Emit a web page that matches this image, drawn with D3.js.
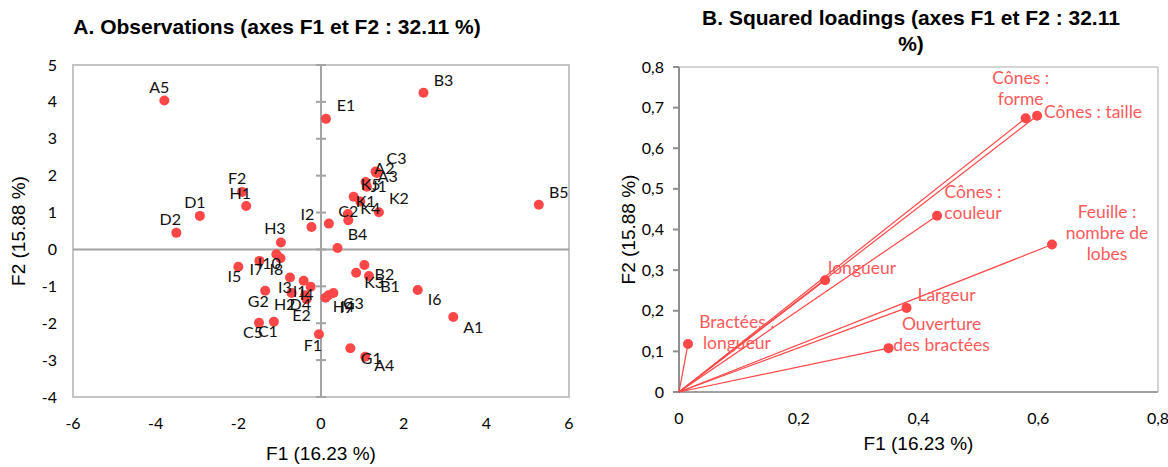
<!DOCTYPE html>
<html>
<head>
<meta charset="utf-8">
<script src="https://cdn.jsdelivr.net/npm/d3@7"></script>
<style>
  html, body { margin: 0; padding: 0; background: #fff; }
  svg { display: block; }
</style>
</head>
<body>
<svg id="chart" width="1168" height="467"></svg>
<script>
// ---------- DATA ----------
const obsNames = ["A1","A2","A3","A4","A5","B1","B2","B3","B4","B5","C1","C2","C3","C4","C5",
  "D1","D2","D3","D4","E1","E2","F1","F2","G1","G2","G3","H1","H2","H3","H4",
  "I1","I2","I3","I4","I5","I6","I7","I8","I9","I10","J1","K1","K2","K3","K4","K5"];
const obsF1 = [3.20,1.34,1.35,1.07,-3.79,1.16,1.05,2.48,0.40,5.27,-1.14,0.66,1.32,0.19,-1.50,
  -2.93,-3.50,0.65,-0.38,0.12,-0.35,-0.05,-1.91,0.71,-1.35,0.30,-1.81,-0.71,-0.97,0.11,
  -0.42,-0.23,-0.75,-0.25,-2.00,2.34,-1.49,-0.98,0.18,-1.08,1.11,0.79,1.40,0.85,0.95,1.08];
const obsF2 = [-1.83,2.10,2.07,-2.91,4.04,-0.72,-0.42,4.25,0.04,1.21,-1.96,0.79,2.11,0.70,-1.99,
  0.91,0.45,0.96,-1.24,3.54,-1.35,-2.30,1.56,-2.68,-1.12,-1.18,1.18,-1.18,0.19,-1.31,
  -0.85,0.61,-0.76,-1.01,-0.47,-1.10,-0.31,-0.24,-1.24,-0.13,1.70,1.43,1.01,-0.63,1.30,1.83];

const varNames = [["Cônes :","forme"],["Cônes : taille"],["Cônes :","couleur"],["Feuille :","nombre de","lobes"],
  ["longueur"],["Largeur"],["Ouverture","des bractées"],["Bractées :","longueur"]];
const varF1 = [0.579,0.598,0.431,0.623,0.244,0.380,0.350,0.015];
const varF2 = [0.674,0.680,0.434,0.363,0.275,0.207,0.108,0.118];

const xTicksA = [-6,-4,-2,0,2,4,6];
const yTicksA = [-4,-3,-2,-1,0,1,2,3,4,5];
const xTicksB = [0,0.2,0.4,0.6,0.8];
const yTicksB = [0,0.1,0.2,0.3,0.4,0.5,0.6,0.7,0.8];

const titleA = "A. Observations (axes F1 et F2 : 32.11 %)";
const titleB = ["B. Squared loadings (axes F1 et F2 : 32.11", "%)"];
const xTitle = "F1 (16.23 %)";
const yTitle = "F2 (15.88 %)";

// ---------- LAYOUT (label placement, pixels) ----------
const obsLabelOffset = {
  A1:[20,10],A2:[8,-4],A3:[11,3],A4:[19,9],A5:[-5,-13],B1:[21,10],B2:[20,9],B3:[20,-12],B4:[20,-14],B5:[20,-12],
  C1:[-6,10],C2:[0,-9],C3:[21,-13],C4:null,C5:[-6,10],D1:[-5,-13],D2:[-6,-13],D3:null,D4:[-5,9],
  E1:[20,-13],E2:[-5,16],F1:[-6,11],F2:[-5,-13],G1:[21,10],G2:[-7,11],G3:[20,10],H1:[-6,-13],H2:[-7,11],
  H3:[-6,-14],H4:[18,9],I1:[-4,11],I2:[-4,-13],I3:[-5,10],I4:[-4,8],I5:[-4,10],I6:[17,9],I7:[-3,9],
  I8:[-4,11],I9:[18,12],I10:[-7,9],J1:[12,0],K1:[12,5],K2:[20,-14],K3:[18,10],K4:[10,7],K5:[5,2]
};
// [x offset, first line y offset] for variable labels
const varLabelOffset = [[-5,-40],[7,-4],[36,-24],[55,-33],[37,-12],[40,-13],[53,-24],[49,-22]];

const red = "#ff4747";
const labelRed = "#ff5a5a";
const fontLabel = "Lato, 'Open Sans', sans-serif";
const fontTitle = "'Liberation Sans', Arial, sans-serif";

const svg = d3.select("#chart");

// ================= CHART A =================
const xA = d3.scaleLinear().domain([-6,6]).range([73,569]);
const yA = d3.scaleLinear().domain([-4,5]).range([397,65]);
const gA = svg.append("g");

gA.append("rect")
  .attr("x", xA(-6)).attr("y", yA(5))
  .attr("width", xA(6)-xA(-6)).attr("height", yA(-4)-yA(5))
  .attr("fill","none").attr("stroke","#c4c4c4").attr("stroke-width",2);

gA.append("line").attr("x1",xA(-6)).attr("x2",xA(6)).attr("y1",yA(0)).attr("y2",yA(0))
  .attr("stroke","#a3a3a3").attr("stroke-width",2);
gA.append("line").attr("x1",xA(0)).attr("x2",xA(0)).attr("y1",yA(5)).attr("y2",yA(-4))
  .attr("stroke","#a3a3a3").attr("stroke-width",2);
gA.selectAll(".ytk").data(yTicksA).enter().append("line")
  .attr("x1",xA(0)-5).attr("x2",xA(0)+5).attr("y1",d=>yA(d)).attr("y2",d=>yA(d))
  .attr("stroke","#a3a3a3").attr("stroke-width",2);

gA.selectAll(".ytl").data(yTicksA).enter().append("text")
  .attr("x",57).attr("y",d=>yA(d)).attr("dy","0.35em").attr("text-anchor","end")
  .attr("font-family",fontLabel).attr("font-size",16).attr("fill","#000").text(d=>d);
gA.selectAll(".xtl").data(xTicksA).enter().append("text")
  .attr("x",d=>xA(d)).attr("y",423).attr("dy","0.35em").attr("text-anchor","middle")
  .attr("font-family",fontLabel).attr("font-size",16).attr("fill","#000").text(d=>d);

gA.append("text").attr("x",277).attr("y",34).attr("text-anchor","middle")
  .attr("font-family",fontTitle).attr("font-weight","bold").attr("font-size",21).text(titleA);
gA.append("text").attr("x",xA(0)).attr("y",460).attr("text-anchor","middle")
  .attr("font-family",fontTitle).attr("font-size",19).text(xTitle);
gA.append("text").attr("transform",`translate(25,${(yA(5)+yA(-4))/2}) rotate(-90)`)
  .attr("text-anchor","middle").attr("font-family",fontTitle).attr("font-size",19).text(yTitle);

const obs = obsNames.map((n,i)=>({name:n, f1:obsF1[i], f2:obsF2[i]}));
gA.selectAll(".pt").data(obs).enter().append("circle")
  .attr("cx",d=>xA(d.f1)).attr("cy",d=>yA(d.f2)).attr("r",5).attr("fill",red);
gA.selectAll(".pl").data(obs.filter(d=>obsLabelOffset[d.name])).enter().append("text")
  .attr("x",d=>xA(d.f1)+obsLabelOffset[d.name][0])
  .attr("y",d=>yA(d.f2)+obsLabelOffset[d.name][1])
  .attr("dy","0.35em").attr("text-anchor","middle")
  .attr("font-family",fontLabel).attr("font-size",16).attr("fill","#111").text(d=>d.name);

// ================= CHART B =================
const xB = d3.scaleLinear().domain([0,0.8]).range([679,1158]);
const yB = d3.scaleLinear().domain([0,0.8]).range([392,67]);
const gB = svg.append("g");

gB.append("line").attr("x1",xB(0)).attr("x2",xB(0.8)).attr("y1",yB(0.8)).attr("y2",yB(0.8))
  .attr("stroke","#d4d4d4").attr("stroke-width",2);
gB.append("line").attr("x1",xB(0.8)).attr("x2",xB(0.8)).attr("y1",yB(0.8)).attr("y2",yB(0))
  .attr("stroke","#d4d4d4").attr("stroke-width",2);
gB.append("line").attr("x1",xB(0)).attr("x2",xB(0.8)).attr("y1",yB(0)).attr("y2",yB(0))
  .attr("stroke","#a0a0a0").attr("stroke-width",2);
gB.append("line").attr("x1",xB(0)).attr("x2",xB(0)).attr("y1",yB(0.8)).attr("y2",yB(0))
  .attr("stroke","#8f8f8f").attr("stroke-width",2);
gB.selectAll(".ytk").data(yTicksB).enter().append("line")
  .attr("x1",xB(0)-6).attr("x2",xB(0)).attr("y1",d=>yB(d)).attr("y2",d=>yB(d))
  .attr("stroke","#8f8f8f").attr("stroke-width",2);

const fmt = d => d === 0 ? "0" : d3.format(".1f")(d).replace(".", ",");
gB.selectAll(".ytl").data(yTicksB).enter().append("text")
  .attr("x",xB(0)-15).attr("y",d=>yB(d)).attr("dy","0.35em").attr("text-anchor","end")
  .attr("font-family",fontLabel).attr("font-size",16).attr("fill","#000").text(fmt);
gB.selectAll(".xtl").data(xTicksB).enter().append("text")
  .attr("x",d=>xB(d)).attr("y",418).attr("dy","0.35em").attr("text-anchor","middle")
  .attr("font-family",fontLabel).attr("font-size",16).attr("fill","#000").text(fmt);

const tB = gB.append("text").attr("text-anchor","middle")
  .attr("font-family",fontTitle).attr("font-weight","bold").attr("font-size",21);
titleB.forEach((s,i)=>tB.append("tspan").attr("x",911).attr("y",25+i*26).text(s));
gB.append("text").attr("x",(xB(0)+xB(0.8))/2).attr("y",450).attr("text-anchor","middle")
  .attr("font-family",fontTitle).attr("font-size",19).text(xTitle);
gB.append("text").attr("transform",`translate(635,${(yB(0)+yB(0.8))/2}) rotate(-90)`)
  .attr("text-anchor","middle").attr("font-family",fontTitle).attr("font-size",19).text(yTitle);

const vars = varNames.map((n,i)=>({lines:n, f1:varF1[i], f2:varF2[i], off:varLabelOffset[i]}));
gB.selectAll(".vl").data(vars).enter().append("line")
  .attr("x1",xB(0)).attr("y1",yB(0)).attr("x2",d=>xB(d.f1)).attr("y2",d=>yB(d.f2))
  .attr("stroke",red).attr("stroke-width",1.2);
gB.selectAll(".vp").data(vars).enter().append("circle")
  .attr("cx",d=>xB(d.f1)).attr("cy",d=>yB(d.f2)).attr("r",5).attr("fill",red);
const vt = gB.selectAll(".vt").data(vars).enter().append("text")
  .attr("text-anchor",d=>d.lines.length===1 && d.lines[0].startsWith("Cônes") ? "start" : "middle")
  .attr("font-family",fontLabel).attr("font-size",17.5).attr("fill",labelRed);
vt.each(function(d){
  const t = d3.select(this);
  const x0 = xB(d.f1)+d.off[0], y0 = yB(d.f2)+d.off[1];
  d.lines.forEach((s,i)=>t.append("tspan").attr("x",x0).attr("y",y0+i*21).attr("dy","0.35em").text(s));
});
</script>
</body>
</html>
